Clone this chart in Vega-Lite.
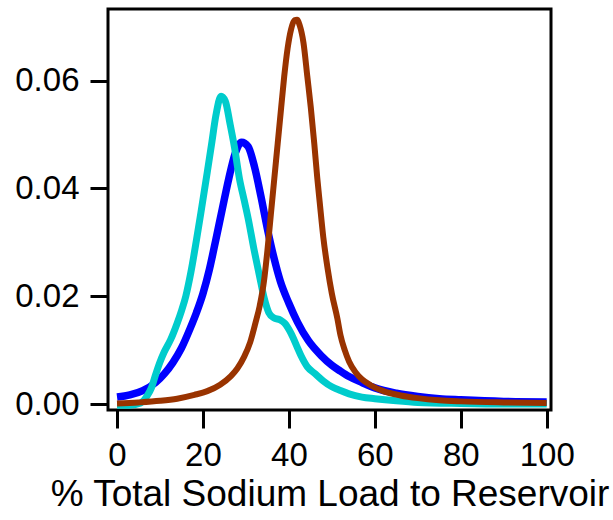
{
  "$schema": "https://vega.github.io/schema/vega-lite/v6.json",
  "width": 443,
  "height": 401,
  "autosize": {"type": "none"},
  "padding": {"left": 108, "top": 9, "right": 62, "bottom": 110},
  "background": "white",
  "config": {
    "view": {"stroke": "black", "strokeWidth": 3},
    "font": "Liberation Sans",
    "axis": {
      "domain": false,
      "grid": false,
      "ticks": true,
      "tickColor": "black",
      "tickWidth": 3,
      "tickSize": 18,
      "labelFont": "Liberation Sans",
      "labelFontSize": 33,
      "labelColor": "black",
      "titleFont": "Liberation Sans",
      "titleFontSize": 37,
      "titleFontWeight": "normal",
      "titleColor": "black"
    }
  },
  "datasets": {
    "curves": [
      {"s": "A", "x": 0, "y": 0.0013}, {"s": "A", "x": 3, "y": 0.0017}, {"s": "A", "x": 6, "y": 0.0025},
      {"s": "A", "x": 9, "y": 0.0040}, {"s": "A", "x": 11, "y": 0.0056}, {"s": "A", "x": 13, "y": 0.0077},
      {"s": "A", "x": 15, "y": 0.0104}, {"s": "A", "x": 17, "y": 0.0140}, {"s": "A", "x": 18.5, "y": 0.0170},
      {"s": "A", "x": 20, "y": 0.0205}, {"s": "A", "x": 21.5, "y": 0.0250}, {"s": "A", "x": 23, "y": 0.0305},
      {"s": "A", "x": 24.5, "y": 0.0362}, {"s": "A", "x": 26, "y": 0.0418}, {"s": "A", "x": 27.5, "y": 0.0465},
      {"s": "A", "x": 29, "y": 0.0486}, {"s": "A", "x": 30.5, "y": 0.0478}, {"s": "A", "x": 32, "y": 0.0440},
      {"s": "A", "x": 33.5, "y": 0.0385}, {"s": "A", "x": 35, "y": 0.0325}, {"s": "A", "x": 36.5, "y": 0.0272},
      {"s": "A", "x": 38, "y": 0.0228}, {"s": "A", "x": 40, "y": 0.0187}, {"s": "A", "x": 42, "y": 0.0152},
      {"s": "A", "x": 44.5, "y": 0.0118}, {"s": "A", "x": 47.5, "y": 0.0090}, {"s": "A", "x": 50, "y": 0.0072},
      {"s": "A", "x": 52, "y": 0.0061}, {"s": "A", "x": 54, "y": 0.0051}, {"s": "A", "x": 57, "y": 0.0040},
      {"s": "A", "x": 60, "y": 0.0030}, {"s": "A", "x": 65, "y": 0.0020}, {"s": "A", "x": 70, "y": 0.0014},
      {"s": "A", "x": 75, "y": 0.0010}, {"s": "A", "x": 80, "y": 0.0008}, {"s": "A", "x": 90, "y": 0.0005},
      {"s": "A", "x": 100, "y": 0.0004},

      {"s": "B", "x": 0, "y": -0.0002}, {"s": "B", "x": 3, "y": -0.0002}, {"s": "B", "x": 5.5, "y": 0.0002},
      {"s": "B", "x": 7, "y": 0.0015}, {"s": "B", "x": 8, "y": 0.0030}, {"s": "B", "x": 9, "y": 0.0055},
      {"s": "B", "x": 10, "y": 0.0078}, {"s": "B", "x": 11, "y": 0.0097}, {"s": "B", "x": 12.5, "y": 0.0120},
      {"s": "B", "x": 14, "y": 0.0150}, {"s": "B", "x": 15, "y": 0.0173}, {"s": "B", "x": 16, "y": 0.0200},
      {"s": "B", "x": 17.2, "y": 0.0245}, {"s": "B", "x": 18.5, "y": 0.0305}, {"s": "B", "x": 19.5, "y": 0.0354},
      {"s": "B", "x": 21, "y": 0.0430}, {"s": "B", "x": 22, "y": 0.0482}, {"s": "B", "x": 23, "y": 0.0535},
      {"s": "B", "x": 24.2, "y": 0.0571}, {"s": "B", "x": 25.2, "y": 0.0562}, {"s": "B", "x": 26.3, "y": 0.0520},
      {"s": "B", "x": 27.3, "y": 0.0478}, {"s": "B", "x": 28.5, "y": 0.0418}, {"s": "B", "x": 29.6, "y": 0.0378},
      {"s": "B", "x": 30.5, "y": 0.0345}, {"s": "B", "x": 31.9, "y": 0.0286}, {"s": "B", "x": 33.1, "y": 0.0240},
      {"s": "B", "x": 34.3, "y": 0.0195}, {"s": "B", "x": 35.3, "y": 0.0170}, {"s": "B", "x": 36.5, "y": 0.0160},
      {"s": "B", "x": 38, "y": 0.0156}, {"s": "B", "x": 39, "y": 0.0150}, {"s": "B", "x": 40.5, "y": 0.0131},
      {"s": "B", "x": 41.8, "y": 0.0108}, {"s": "B", "x": 42.8, "y": 0.0090}, {"s": "B", "x": 44.3, "y": 0.0069},
      {"s": "B", "x": 46, "y": 0.0057}, {"s": "B", "x": 48, "y": 0.0043}, {"s": "B", "x": 50, "y": 0.0032},
      {"s": "B", "x": 52, "y": 0.0025}, {"s": "B", "x": 54, "y": 0.0019}, {"s": "B", "x": 57, "y": 0.0013},
      {"s": "B", "x": 60, "y": 0.0010}, {"s": "B", "x": 65, "y": 0.0006}, {"s": "B", "x": 70, "y": 0.0003},
      {"s": "B", "x": 80, "y": 0.0001}, {"s": "B", "x": 90, "y": 0.0000}, {"s": "B", "x": 100, "y": 0.0000},

      {"s": "C", "x": 0, "y": 0.0001}, {"s": "C", "x": 5, "y": 0.0003}, {"s": "C", "x": 10, "y": 0.0006},
      {"s": "C", "x": 14, "y": 0.0010}, {"s": "C", "x": 18, "y": 0.0017}, {"s": "C", "x": 21, "y": 0.0024},
      {"s": "C", "x": 24, "y": 0.0036}, {"s": "C", "x": 26.5, "y": 0.0052}, {"s": "C", "x": 28, "y": 0.0066},
      {"s": "C", "x": 29.6, "y": 0.0088}, {"s": "C", "x": 31, "y": 0.0115}, {"s": "C", "x": 32.2, "y": 0.0150},
      {"s": "C", "x": 33.2, "y": 0.0182}, {"s": "C", "x": 34.2, "y": 0.0228}, {"s": "C", "x": 35, "y": 0.0285},
      {"s": "C", "x": 35.8, "y": 0.0352}, {"s": "C", "x": 36.6, "y": 0.0418}, {"s": "C", "x": 37.4, "y": 0.0484},
      {"s": "C", "x": 38.2, "y": 0.0550}, {"s": "C", "x": 38.9, "y": 0.0607}, {"s": "C", "x": 39.7, "y": 0.0660},
      {"s": "C", "x": 40.5, "y": 0.0695}, {"s": "C", "x": 41.3, "y": 0.0712}, {"s": "C", "x": 41.9, "y": 0.0713},
      {"s": "C", "x": 42.5, "y": 0.0703}, {"s": "C", "x": 43.4, "y": 0.0670}, {"s": "C", "x": 44.3, "y": 0.0607},
      {"s": "C", "x": 45.1, "y": 0.0550}, {"s": "C", "x": 45.9, "y": 0.0484}, {"s": "C", "x": 46.6, "y": 0.0420},
      {"s": "C", "x": 47.2, "y": 0.0372}, {"s": "C", "x": 48, "y": 0.0310}, {"s": "C", "x": 49, "y": 0.0252},
      {"s": "C", "x": 50, "y": 0.0205}, {"s": "C", "x": 51.3, "y": 0.0158}, {"s": "C", "x": 52, "y": 0.0128},
      {"s": "C", "x": 53, "y": 0.0100}, {"s": "C", "x": 54, "y": 0.0079}, {"s": "C", "x": 55.5, "y": 0.0059},
      {"s": "C", "x": 57, "y": 0.0046}, {"s": "C", "x": 59, "y": 0.0035}, {"s": "C", "x": 62, "y": 0.0024},
      {"s": "C", "x": 66, "y": 0.0016}, {"s": "C", "x": 70, "y": 0.0011}, {"s": "C", "x": 75, "y": 0.0007},
      {"s": "C", "x": 80, "y": 0.0005}, {"s": "C", "x": 90, "y": 0.0003}, {"s": "C", "x": 100, "y": 0.0002}
    ]
  },
  "data": {"name": "curves"},
  "encoding": {
    "x": {
      "field": "x", "type": "quantitative",
      "scale": {"domain": [-2.1, 101], "nice": false, "zero": false},
      "axis": {"values": [0, 20, 40, 60, 80, 100], "labelPadding": 11, "title": "% Total Sodium Load to Reservoir", "titlePadding": 4}
    },
    "y": {
      "field": "y", "type": "quantitative",
      "scale": {"domain": [-0.0011, 0.0733], "nice": false, "zero": false},
      "axis": {"values": [0, 0.02, 0.04, 0.06], "format": ".2f", "labelPadding": 11, "title": null}
    }
  },
  "layer": [
    {
      "transform": [{"filter": "datum.s === 'A'"}],
      "mark": {"type": "line", "interpolate": "monotone", "color": "#0000ff", "strokeWidth": 7.5, "clip": true}
    },
    {
      "transform": [{"filter": "datum.s === 'B'"}],
      "mark": {"type": "line", "interpolate": "monotone", "color": "#00cccc", "strokeWidth": 7, "clip": true}
    },
    {
      "transform": [{"filter": "datum.s === 'C'"}],
      "mark": {"type": "line", "interpolate": "monotone", "color": "#993300", "strokeWidth": 6, "clip": true}
    }
  ]
}
